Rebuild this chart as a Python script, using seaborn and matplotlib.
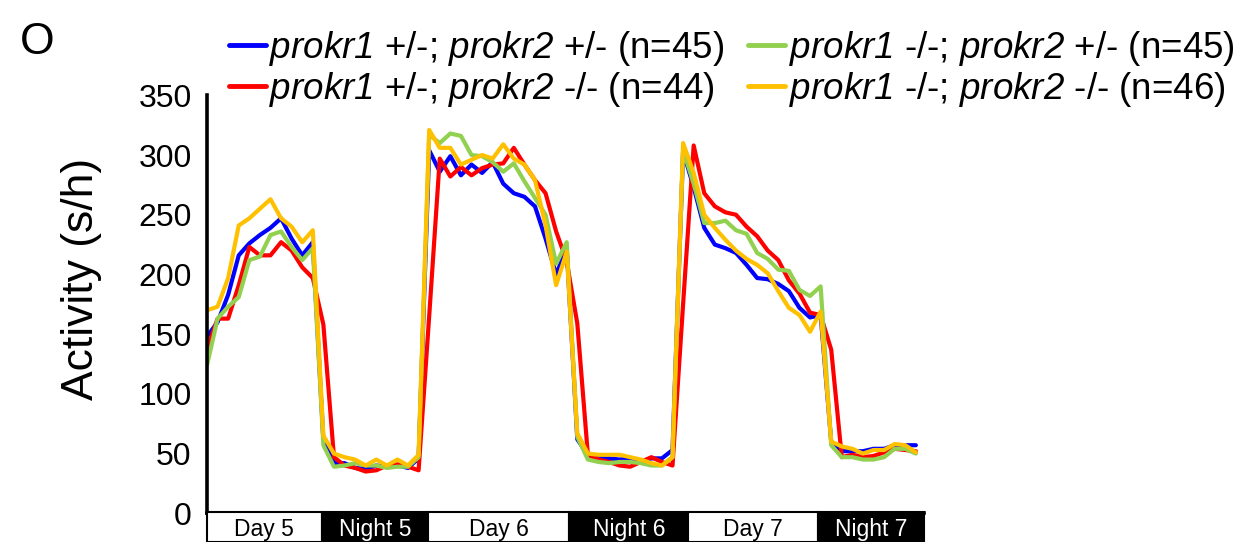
import numpy as np
import pandas as pd
import seaborn as sns
import matplotlib
matplotlib.use("Agg")
import matplotlib.pyplot as plt
from matplotlib.lines import Line2D
from matplotlib.patches import Rectangle

# ---------------- data ----------------
genotypes = [
    r"$prokr1$ +/-; $prokr2$ +/- (n=45)",
    r"$prokr1$ +/-; $prokr2$ -/- (n=44)",
    r"$prokr1$ -/-; $prokr2$ +/- (n=45)",
    r"$prokr1$ -/-; $prokr2$ -/- (n=46)",
]
colors = ["#0000FF", "#FF0000", "#92D050", "#FFC000"]

het_het = [148, 160, 183, 216, 226, 233, 239, 247, 230, 216, 227,
           61,
           42, 42, 38, 37, 40, 39, 40, 38, 46,
           304, 286, 299, 283, 292, 285, 294, 276, 268, 265, 257, 230, 200, 222,
           62,
           49, 46, 46, 45, 46, 43, 46, 46, 53,
           303, 273, 239, 225, 222, 218, 208, 197, 196, 192, 186, 172, 164, 166,
           60,
           52, 52, 52, 54, 54, 57, 57, 57]
het_ko = [137, 163, 163, 191, 223, 216, 216, 227, 220, 206, 197,
          158,
          47, 40, 38, 35, 36, 40, 41, 39, 36,
          165, 297, 282, 290, 283, 289, 292, 293, 306, 292, 279, 268, 236, 211,
          159,
          49, 45, 43, 40, 39, 43, 47, 43, 40,
          175, 308, 268, 257, 252, 250, 240, 232, 220, 212, 195, 184, 168, 166,
          137,
          47, 49, 47, 48, 51, 54, 53, 52]
ko_het = [124, 163, 173, 181, 212, 215, 233, 236, 223, 212, 222,
          57,
          39, 40, 42, 40, 40, 38, 39, 39, 47,
          317, 310, 318, 316, 300, 299, 294, 286, 293, 278, 264, 250, 209, 227,
          64,
          45, 43, 42, 43, 43, 42, 40, 40, 47,
          304, 276, 243, 243, 245, 237, 234, 218, 213, 204, 203, 187, 182, 190,
          57,
          47, 47, 45, 45, 47, 54, 54, 50]
ko_ko = [170, 173, 197, 241, 247, 255, 263, 247, 240, 227, 237,
         65,
         50, 47, 45, 40, 45, 40, 45, 40, 49,
         321, 306, 306, 292, 296, 300, 297, 309, 297, 292, 279, 241, 191, 219,
         67,
         50, 49, 49, 49, 47, 45, 42, 40, 47,
         310, 285, 250, 239, 229, 220, 213, 208, 201, 186, 172, 166, 152, 169,
         60,
         56, 54, 50, 53, 53, 58, 57, 51]

period_labels = ["Day 5", "Night 5", "Day 6", "Night 6", "Day 7", "Night 7"]
period_edges = [0, 10.84, 20.92, 34.24, 45.49, 57.78, 67.77]
y_ticks = [0, 50, 100, 150, 200, 250, 300, 350]

series = [het_het, het_ko, ko_het, ko_ko]
frames = []
for g, vals in zip(genotypes, series):
    frames.append(pd.DataFrame({"hour": np.arange(len(vals)),
                                "activity": vals, "genotype": g}))
df = pd.concat(frames, ignore_index=True)

# ---------------- style ----------------
sns.set_style("white")
plt.rcParams["font.family"] = ["Liberation Sans", "DejaVu Sans"]
plt.rcParams["mathtext.fontset"] = "custom"
plt.rcParams["mathtext.rm"] = "Liberation Sans:italic"
plt.rcParams["mathtext.it"] = "Liberation Sans:italic"
plt.rcParams["mathtext.default"] = "it"
for k in ["text.color", "axes.labelcolor", "xtick.color", "ytick.color",
          "xtick.labelcolor", "ytick.labelcolor"]:
    plt.rcParams[k] = "black"

W, H = 1245, 542
fig = plt.figure(figsize=(W / 100, H / 100), dpi=100)
fig.patch.set_facecolor("white")

ax_l, ax_r, ax_top, ax_bot = 207, 924, 95.3, 513.3
ax = fig.add_axes([ax_l / W, 1 - ax_bot / H, (ax_r - ax_l) / W, (ax_bot - ax_top) / H])

sns.lineplot(data=df, x="hour", y="activity", hue="genotype",
             hue_order=genotypes, palette=colors, linewidth=3.0,
             legend=False, ax=ax)

ax.set_xlim(period_edges[0], period_edges[-1])
ax.set_ylim(0, 350)
ax.set_yticks(y_ticks)
ax.set_yticklabels([str(t) for t in y_ticks], fontsize=23, color="black")
ax.set_xticks([])
ax.set_xlabel("")
ax.set_ylabel("")
fig.text(82 / W, 1 - 279 / H, "Activity (s/h)", fontsize=32, rotation=90,
         ha="center", va="center", color="black")
for s in ["top", "right"]:
    ax.spines[s].set_visible(False)
for s in ["left", "bottom"]:
    ax.spines[s].set_linewidth(2.6)
    ax.spines[s].set_color("black")
ax.tick_params(axis="y", direction="out", length=7, width=2.2, color="black", pad=4)
ax.set_facecolor("white")

# day / night bar
bar_top = 512.3
bax = fig.add_axes([ax_l / W, 0, (ax_r - ax_l) / W, (H - bar_top) / H])
bax.set_xlim(period_edges[0], period_edges[-1])
bax.set_ylim(0, 1)
bax.axis("off")
for i, lab in enumerate(period_labels):
    x0, x1 = period_edges[i], period_edges[i + 1]
    night = lab.startswith("Night")
    bax.add_patch(Rectangle((x0, 0), x1 - x0, 1,
                            facecolor="black" if night else "white",
                            edgecolor="black", linewidth=1.5, clip_on=False))
    bax.text((x0 + x1) / 2, 0.42, lab, ha="center", va="center",
             fontsize=16.5, color="white" if night else "black")

# legend
handles = [Line2D([0], [0], color=c, lw=3.5) for c in colors]
fig.legend(handles, genotypes, loc="upper left", ncol=2,
           bbox_to_anchor=(214 / W, 1 - 14 / H), frameon=False,
           fontsize=26.5, handlelength=1.0, handletextpad=0.1,
           columnspacing=0.65, labelspacing=0.07, borderaxespad=0,
           labelcolor="black")

fig.text(20 / W, 1 - 42 / H, "O", fontsize=32, va="center", ha="left", color="black")

fig.savefig("out.png", dpi=100, facecolor="white")
